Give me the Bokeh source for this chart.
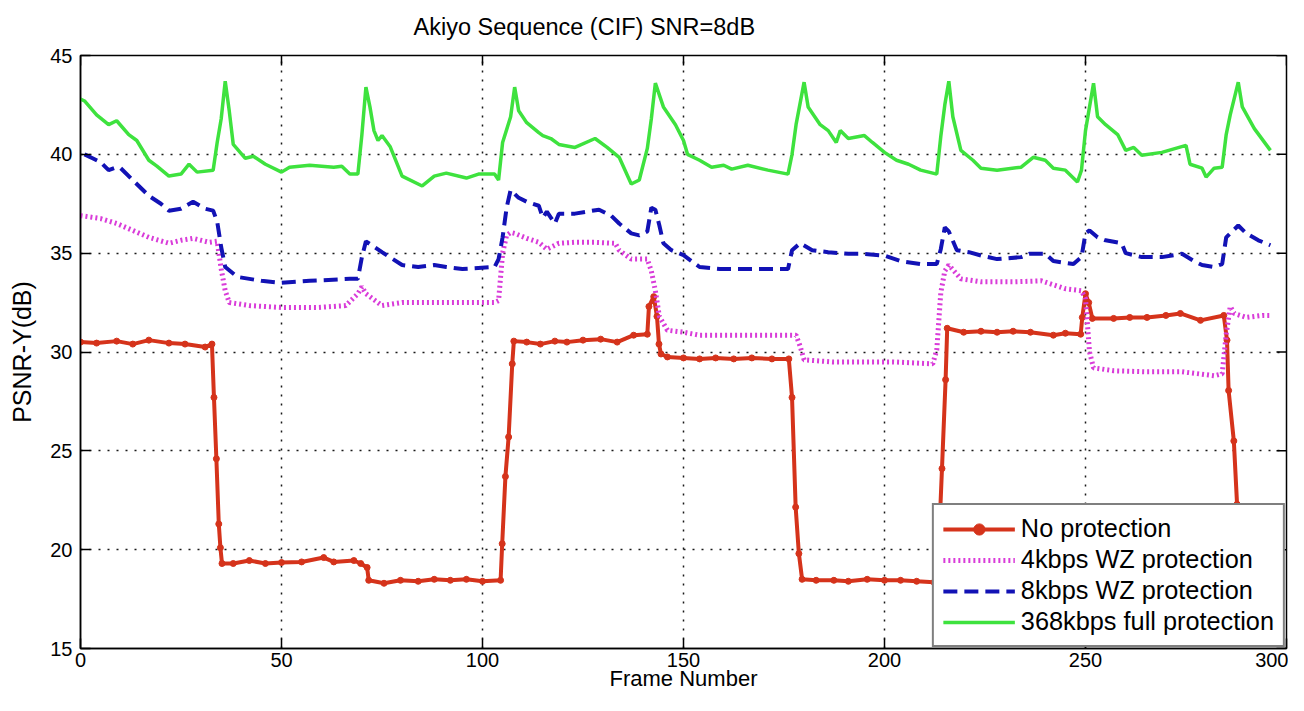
import math
from bokeh.plotting import figure
from bokeh.models import FixedTicker, Range1d
from bokeh.embed import file_html
from bokeh.resources import INLINE

# ---------------- data ----------------
x_ticks = [0, 50, 100, 150, 200, 250, 300]
y_ticks = [15, 20, 25, 30, 35, 40, 45]

title_text = "Akiyo Sequence (CIF) SNR=8dB"
series_names = ["No protection", "4kbps WZ protection", "8kbps WZ protection", "368kbps full protection"]

red_frames = [0, 4, 9, 13, 17, 22, 26, 31, 32.7, 33.2, 33.8, 34.4, 34.8, 35.2, 38, 42, 46, 50, 55, 60.5, 63, 68,
              69.7, 71.3, 71.7, 75.5, 79.6, 84, 88, 92, 96, 100, 104.5, 104.9, 105.7, 106.5, 107.4, 107.8, 111,
              114.4, 118, 121, 125, 129.4, 133.5, 137.6, 141, 141.4, 142.6, 143.4, 143.9, 144.4, 146, 150, 154,
              158, 162.5, 167, 172, 176.2, 177, 177.9, 178.7, 179.5, 183, 187.4, 191, 195.7, 200, 204, 208, 212.3,
              213.9, 214.3, 215.2, 215.6, 219.7, 224, 228, 232, 236.3, 242, 245, 248.8, 249.2, 250, 250.8, 251.7,
              257, 261, 265.3, 270, 273.6, 278.6, 284.4, 285.2, 285.6, 286.9, 287.7, 288.5, 290, 296]
red_values = [30.5, 30.45, 30.55, 30.4, 30.6, 30.45, 30.4, 30.25, 30.4, 27.7, 24.6, 21.3, 20.1, 19.3, 19.3, 19.45,
              19.3, 19.35, 19.38, 19.6, 19.38, 19.45, 19.3, 19.1, 18.45, 18.3, 18.45, 18.4, 18.5, 18.45, 18.5,
              18.4, 18.45, 20.3, 23.7, 25.7, 29.4, 30.55, 30.5, 30.4, 30.55, 30.5, 30.6, 30.65, 30.5, 30.85, 30.9,
              32.3, 32.8, 31.8, 30.4, 29.9, 29.75, 29.7, 29.65, 29.7, 29.65, 29.7, 29.65, 29.65, 27.7, 22.15, 19.8,
              18.5, 18.45, 18.45, 18.4, 18.5, 18.45, 18.45, 18.4, 18.35, 22.15, 24.1, 28.6, 31.2, 31.0, 31.05, 31.0,
              31.05, 31.0, 30.85, 30.95, 30.9, 31.75, 32.95, 32.5, 31.7, 31.7, 31.75, 31.75, 31.85, 31.95, 31.6,
              31.85, 30.6, 28.05, 25.5, 22.3, 19.0, 18.5, 18.5]

mag_frames = [0, 5, 9, 13, 17, 22, 25, 28, 32, 34, 35, 36, 37, 42, 50, 59, 66, 69, 70, 71, 75, 80, 88, 96, 103,
              104, 105, 106, 107, 108, 111, 114, 116, 119, 123, 128, 133, 134, 137, 141, 142, 143, 144, 146, 150,
              154, 163, 175, 178, 179, 180, 187, 202, 212, 213, 214, 215, 216, 219, 224, 232, 239, 245, 249, 250,
              251, 252, 257, 265, 274, 282, 284, 285, 286, 287, 290, 294, 296]
mag_values = [36.9, 36.75, 36.5, 36.15, 35.8, 35.5, 35.65, 35.75, 35.55, 35.6, 34.2, 33.1, 32.5, 32.35, 32.25,
              32.25, 32.35, 32.95, 33.3, 32.95, 32.35, 32.5, 32.5, 32.5, 32.5, 32.6, 35.0, 35.9, 36.05, 36.0, 35.75,
              35.55, 35.2, 35.5, 35.55, 35.55, 35.5, 35.15, 34.7, 34.7, 34.1, 33.1, 31.8, 31.1, 31.0, 30.85, 30.85,
              30.85, 30.85, 30.3, 29.6, 29.5, 29.5, 29.4, 30.1, 33.0, 34.1, 34.4, 33.7, 33.55, 33.55, 33.6, 33.2,
              33.1, 32.7, 30.0, 29.2, 29.05, 29.0, 29.0, 28.8, 28.9, 30.9, 32.3, 31.95, 31.75, 31.85, 31.85]

blue_frames = [1, 3, 5, 7, 9, 10, 13, 17, 20, 22, 25, 28, 31, 33, 34, 35, 36, 39, 45, 50, 57, 67, 69, 70, 71, 75,
               80, 84, 88, 91, 95, 103, 104, 105, 106, 107, 109, 111, 114, 115, 116, 118, 119, 123, 126, 129, 132,
               134, 137, 139, 141, 142, 143, 144, 145, 147, 150, 153, 154, 159, 176, 177, 179, 182, 186, 191, 194,
               200, 204, 209, 213, 214, 215, 216, 218, 221, 224, 228, 234, 236, 240, 242, 247, 249, 250, 251, 253,
               255, 259, 260, 264, 269, 274, 277, 279, 282, 284, 285, 288, 290, 293, 296]
blue_values = [40.0, 39.8, 39.6, 39.2, 39.35, 39.3, 38.7, 37.9, 37.5, 37.15, 37.25, 37.6, 37.25, 37.15, 36.6, 35.3,
               34.3, 33.8, 33.6, 33.5, 33.6, 33.7, 33.7, 34.8, 35.6, 35.05, 34.4, 34.3, 34.4, 34.3, 34.2, 34.3, 34.7,
               35.8, 37.3, 38.2, 37.8, 37.6, 37.4, 36.8, 37.1, 36.5, 37.0, 37.0, 37.1, 37.2, 36.9, 36.5, 36.0, 35.9,
               36.1, 37.3, 37.2, 36.4, 35.5, 35.15, 34.9, 34.45, 34.3, 34.2, 34.2, 35.15, 35.5, 35.15, 35.05, 34.97,
               34.97, 34.88, 34.6, 34.45, 34.45, 35.2, 36.3, 36.1, 35.15, 35.05, 34.88, 34.7, 34.8, 34.97, 34.97,
               34.6, 34.45, 34.8, 36.0, 36.15, 35.8, 35.65, 35.5, 35.0, 34.8, 34.8, 34.97, 34.6, 34.4, 34.3, 34.45,
               35.8, 36.4, 36.0, 35.65, 35.4]

green_frames = [0, 1, 4, 7, 9, 12, 14, 17, 19, 22, 25, 27, 29, 33, 34, 35, 36, 37, 38, 41, 43, 46, 50, 52, 57, 63,
                65, 67, 69, 70, 71, 72, 73, 74, 75, 77, 80, 85, 88, 91, 96, 99, 103, 104, 105, 107, 108, 109, 111,
                114, 115, 117, 119, 123, 128, 131, 134, 137, 139, 141, 142, 143, 145, 148, 150, 151, 154, 157, 160,
                162, 166, 171, 176, 177, 178, 180, 181, 184, 186, 188, 189, 191, 195, 197, 200, 203, 206, 209, 213,
                214, 215, 216, 217, 219, 222, 224, 228, 234, 237, 240, 242, 245, 248, 249, 250, 252, 253, 255, 258,
                260, 262, 264, 269, 275, 276, 279, 280, 282, 284, 285, 286, 288, 289, 292, 296]
green_values = [42.8, 42.7, 42.0, 41.5, 41.7, 41.0, 40.7, 39.7, 39.4, 38.9, 39.0, 39.5, 39.1, 39.2, 40.6, 41.8,
                43.7, 42.2, 40.5, 39.8, 39.9, 39.5, 39.1, 39.35, 39.45, 39.35, 39.4, 39.0, 39.0, 41.0, 43.4, 42.4,
                41.2, 40.7, 40.95, 40.4, 38.9, 38.4, 38.9, 39.05, 38.8, 39.0, 39.0, 38.7, 40.6, 41.9, 43.4, 42.2, 41.6,
                41.1, 40.95, 40.8, 40.5, 40.35, 40.8, 40.35, 39.85, 38.5, 38.7, 40.3, 41.8, 43.6, 42.4, 41.5, 40.7,
                40.0, 39.7, 39.35, 39.45, 39.25, 39.45, 39.2, 39.0, 40.0, 41.5, 43.65, 42.4, 41.5, 41.2, 40.6, 41.2,
                40.8, 40.95, 40.6, 40.1, 39.7, 39.5, 39.2, 39.0, 40.9, 42.5, 43.7, 41.9, 40.2, 39.7, 39.3, 39.2, 39.35,
                39.85, 39.7, 39.3, 39.2, 38.6, 39.2, 41.2, 43.6, 41.9, 41.5, 41.0, 40.2, 40.35, 39.95, 40.1, 40.45,
                39.5, 39.3, 38.85, 39.3, 39.35, 41.0, 42.0, 43.65, 42.4, 41.3, 40.2]

# ---------------- styling ----------------
FONT = "Liberation Sans"
RED = "#d5331b"
MAGENTA = "#d93cd9"
BLUE = "#1212b5"
GREEN = "#3ee23e"

x_min, x_max = x_ticks[0], x_ticks[-1]
y_min, y_max = y_ticks[0], y_ticks[-1]

p = figure(frame_width=1206, frame_height=593,
           x_range=Range1d(x_min, x_max), y_range=Range1d(y_min, y_max),
           output_backend="svg", toolbar_location=None,
           min_border_left=80, min_border_right=2, min_border_top=55, min_border_bottom=47,
           background_fill_color="white", border_fill_color="white")

p.title.text = title_text
p.title.text_font = FONT
p.title.text_font_size = "23.5px"
p.title.text_font_style = "normal"
p.title.text_color = "black"
p.title.align = "left"
p.title.offset = 333
p.title.vertical_align = "top"
p.title.standoff = 27

p.outline_line_color = "black"
p.outline_line_width = 1.5
p.outline_line_alpha = 1

for ax in [p.xaxis[0], p.yaxis[0]]:
    ax.axis_line_color = "black"
    ax.axis_line_width = 1.5
    ax.major_tick_in = 10
    ax.major_tick_out = 0
    ax.minor_tick_line_color = None
    ax.major_tick_line_color = "black"
    ax.major_tick_line_width = 1.5
    ax.major_label_text_font = FONT
    ax.major_label_text_font_size = "20px"
    ax.major_label_text_color = "black"
    ax.axis_label_text_font = FONT
    ax.axis_label_text_font_style = "normal"
    ax.axis_label_text_color = "black"

p.xaxis[0].ticker = FixedTicker(ticks=x_ticks)
p.yaxis[0].ticker = FixedTicker(ticks=y_ticks)
p.xaxis[0].axis_label = "Frame Number"
p.yaxis[0].axis_label = "PSNR-Y(dB)"
p.xaxis[0].axis_label_text_font_size = "22px"
p.yaxis[0].axis_label_text_font_size = "25px"
p.xaxis[0].major_label_standoff = 4
p.xaxis[0].axis_label_standoff = -4
p.yaxis[0].major_label_standoff = 8
p.yaxis[0].axis_label_standoff = 11

for g in [p.xgrid[0], p.ygrid[0]]:
    g.grid_line_color = "black"
    g.grid_line_dash = "2 7"
    g.grid_line_width = 1.5
    g.grid_line_alpha = 0.9
p.xgrid[0].ticker = FixedTicker(ticks=x_ticks)
p.ygrid[0].ticker = FixedTicker(ticks=y_ticks)

# mirrored inward tick marks on the top and right edges (half of each dash lies inside the frame)
p.scatter(x_ticks, [y_max] * len(x_ticks), marker="dash", size=20, angle=math.pi / 2,
          line_color="black", line_width=1.5)
p.scatter([x_max] * len(y_ticks), y_ticks, marker="dash", size=20, angle=0,
          line_color="black", line_width=1.5)

# ---------------- series ----------------
p.line(red_frames, red_values, color=RED, line_width=4, legend_label=series_names[0])
p.scatter(red_frames, red_values, color=RED, size=6, legend_label=series_names[0])
p.line(mag_frames, mag_values, color=MAGENTA, line_width=5, line_dash="2 3", legend_label=series_names[1])
p.line(blue_frames, blue_values, color=BLUE, line_width=4, line_dash="14 7", legend_label=series_names[2])
p.line(green_frames, green_values, color=GREEN, line_width=3.5, legend_label=series_names[3])

lg = p.legend[0]
lg.location = "bottom_right"
lg.margin = 1
lg.padding = 9
lg.spacing = 2
lg.label_height = 28
lg.glyph_height = 28
lg.glyph_width = 72
lg.label_standoff = 6
lg.label_text_font = FONT
lg.label_text_font_size = "25.3px"
lg.label_text_color = "black"
lg.border_line_color = "black"
lg.border_line_width = 2
lg.background_fill_color = "white"
lg.background_fill_alpha = 1

open("out.html", "w").write(file_html(p, INLINE))
